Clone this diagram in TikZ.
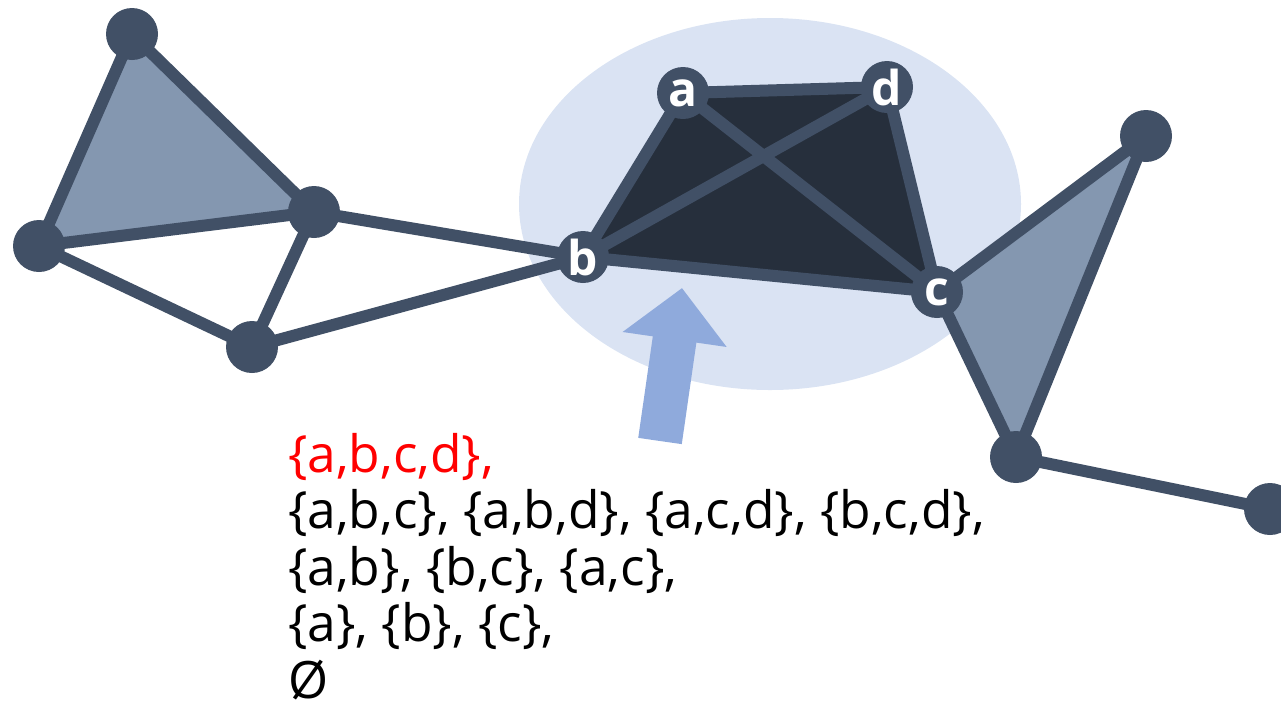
\documentclass[tikz,border=0pt]{standalone}
\usepackage{fontspec}
\setmainfont{Open Sans}
\usepackage{xcolor}
\usepackage{tikz}
\usetikzlibrary{arrows.meta,backgrounds}
\definecolor{edgeslate}{HTML}{415066}
\definecolor{faceslate}{HTML}{8497B0}
\definecolor{facedark}{HTML}{262F3C}
\definecolor{haloblue}{HTML}{DAE3F3}
\definecolor{pointerblue}{HTML}{8FAADC}
\tikzset{
	vertex/.style={circle, fill=edgeslate, inner sep=0pt, minimum size=52pt},
	namedvertex/.style={vertex, text=white, font=\fontsize{48}{48}\selectfont\bfseries},
	edge/.style={draw=edgeslate, line width=12pt, line join=round},
	pointer/.style={-{Triangle[length=52pt, width=102pt]}, line width=44pt, draw=pointerblue}
}

\begin{document}
\begin{tikzpicture}[x=1pt, y=-1pt,
			facelight/.style={fill=faceslate},
			facedeep/.style={fill=facedark},
			]
			\useasboundingbox (0,0) rectangle (1281,705);
			\clip (0,0) rectangle (1281,705);
			
			%% -- Left cluster
			\node[vertex] (t1) at (132,34) {};
			\node[vertex] (t2) at (39,246) {};
			\node[vertex] (t3) at (314,212) {};
			\node[vertex] (t4) at (252,347) {};
			
			%% -- The clique a,b,c,d
			\node[namedvertex] (a) at (683,93) {a};
			\node[namedvertex] (b) at (583,257) {b};
			\node[namedvertex] (c) at (937,292) {c};
			\node[namedvertex] (d) at (887,87) {d};
			
			%% -- Right cluster
			\node[vertex] (r1) at (1146,136) {};
			\node[vertex] (r2) at (1016,457) {};
			\node[vertex] (r3) at (1270,509) {};
			
			%% -- Pointer ends
			\coordinate (ptail) at (660,441);
			\coordinate (phead) at (682,288);
			
			\begin{pgfonlayer}{background}
				%% -- Highlight round the clique
				\fill[haloblue] (770,204) ellipse [x radius=251, y radius=186];
				\draw[pointer] (ptail) -- (phead);
				
				%% -- Faces
				\fill[facelight] (t1.center) -- (t2.center) -- (t3.center) -- cycle;
				\fill[facedeep] (b.center) -- (a.center) -- (d.center) -- (c.center) -- cycle;
				\fill[facelight] (c.center) -- (r1.center) -- (r2.center) -- cycle;
				
				%% -- Edges
				\draw[edge] (t1.center) -- (t2.center);
				\draw[edge] (t1.center) -- (t3.center);
				\draw[edge] (t2.center) -- (t3.center);
				\draw[edge] (t2.center) -- (t4.center);
				\draw[edge] (t3.center) -- (t4.center);
				\draw[edge] (t3.center) -- (b.center);
				\draw[edge] (t4.center) -- (b.center);
				\draw[edge] (a.center) -- (b.center);
				\draw[edge] (a.center) -- (d.center);
				\draw[edge] (d.center) -- (c.center);
				\draw[edge] (b.center) -- (c.center);
				\draw[edge] (a.center) -- (c.center);
				\draw[edge] (b.center) -- (d.center);
				\draw[edge] (c.center) -- (r1.center);
				\draw[edge] (c.center) -- (r2.center);
				\draw[edge] (r1.center) -- (r2.center);
				\draw[edge] (r2.center) -- (r3.center);
			\end{pgfonlayer}
			
			%% -- List of faces (anchored at the last line)
			\node[anchor=base west, align=left, inner sep=0pt,
			font=\fontsize{51.5}{56.5}\selectfont] (faces) at (288,698)
			{\textcolor{red}{\{a,b,c,d\},}\\
				\{a,b,c\}, \{a,b,d\}, \{a,c,d\}, \{b,c,d\},\\
				\{a,b\}, \{b,c\}, \{a,c\},\\
				\{a\}, \{b\}, \{c\},\\
				Ø};
			
		\end{tikzpicture}
\end{document}
